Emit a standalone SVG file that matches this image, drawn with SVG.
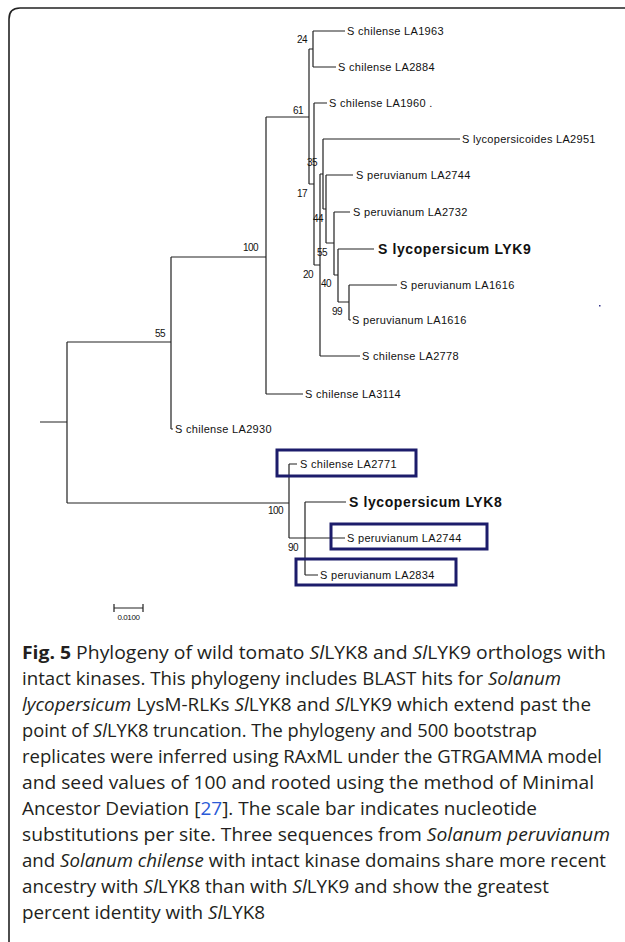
<svg xmlns="http://www.w3.org/2000/svg" width="625" height="942" viewBox="0 0 625 942">
<style>
.br{stroke:#222;stroke-width:1.2;fill:none}
.lf{font-family:"Liberation Sans",Arial,sans-serif;font-size:11px;letter-spacing:0.3px;fill:#111}
.bd{font-family:"Liberation Sans",Arial,sans-serif;font-size:14px;font-weight:bold;letter-spacing:0.6px;fill:#111}
.bs{font-family:"Liberation Sans",Arial,sans-serif;font-size:10px;letter-spacing:-0.6px;fill:#111;text-anchor:end}
.box{fill:none;stroke:#1c1c6b;stroke-width:3}
.cap{font-family:"Open Sans","Noto Sans",sans-serif;font-size:18px;fill:#231f20}
.it{font-style:italic}
.b{font-weight:bold}
</style>
<rect width="625" height="942" fill="#fff"/>
<path d="M9,942 V19 Q9,8 20,8 H625" fill="none" stroke="#222" stroke-width="1.6"/>
<g id="connectors">
<path class="br" d="M40,422H67M67,342V503M67,342H171M171,257V429M171,429H173M171,257H266M266,117V394M266,394H303M266,117H309M309,49V184M309,49H313M313,31V67M313,31H345M313,67H336M309,184H314M314,103V265M314,103H327M314,265H320M320,174V356M320,356H360M320,174H323M323,139V209M323,139H460M323,209H326M326,175V243M326,175H353M326,243H334M334,212V275M334,212H350M334,275H338M338,249V302M338,249H374M338,302H349M349,285V320M349,285H397M349,320H351"/>
<path class="br" d="M67,503H289M289,464V538M289,464H297M289,538H305M305,502V575M305,502H346M305,538H345M305,575H318"/>
</g>
<g id="bootstrap">
<text class="bs" x="307" y="43">24</text>
<text class="bs" x="303" y="114">61</text>
<text class="bs" x="258" y="251">100</text>
<text class="bs" x="165" y="337">55</text>
<text class="bs" x="317" y="166">35</text>
<text class="bs" x="307" y="197">17</text>
<text class="bs" x="323" y="222">44</text>
<text class="bs" x="327" y="256">55</text>
<text class="bs" x="313" y="278">20</text>
<text class="bs" x="331" y="287">40</text>
<text class="bs" x="342" y="315">99</text>
<text class="bs" x="283" y="514">100</text>
<text class="bs" x="298" y="551">90</text>
</g>
<g id="leaf-LA1963"><text class="lf" x="347" y="35">S chilense LA1963</text></g>
<g id="leaf-LA2884"><text class="lf" x="338" y="71">S chilense LA2884</text></g>
<g id="leaf-LA1960"><text class="lf" x="329" y="107">S chilense LA1960 .</text></g>
<g id="leaf-LA2951"><text class="lf" x="462" y="143">S lycopersicoides LA2951</text></g>
<g id="leaf-LA2744a"><text class="lf" x="356" y="179">S peruvianum LA2744</text></g>
<g id="leaf-LA2732"><text class="lf" x="353" y="216">S peruvianum LA2732</text></g>
<g id="leaf-LYK9"><text class="bd" x="378" y="254">S lycopersicum LYK9</text></g>
<g id="leaf-LA1616a"><text class="lf" x="400" y="289">S peruvianum LA1616</text></g>
<g id="leaf-LA1616b"><text class="lf" x="352" y="324">S peruvianum LA1616</text></g>
<g id="leaf-LA2778"><text class="lf" x="362" y="360">S chilense LA2778</text></g>
<g id="leaf-LA3114"><text class="lf" x="305" y="398">S chilense LA3114</text></g>
<g id="leaf-LA2930"><text class="lf" x="175" y="433">S chilense LA2930</text></g>
<g id="leaf-LA2771"><rect class="box" x="277" y="450" width="139" height="26"/><text class="lf" x="300" y="468">S chilense LA2771</text></g>
<g id="leaf-LYK8"><text class="bd" x="349" y="507">S lycopersicum LYK8</text></g>
<g id="leaf-LA2744b"><rect class="box" x="331" y="524" width="156" height="25"/><text class="lf" x="347" y="542">S peruvianum LA2744</text></g>
<g id="leaf-LA2834"><rect class="box" x="296" y="559" width="160" height="26"/><text class="lf" x="320" y="579">S peruvianum LA2834</text></g>
<rect x="599" y="305" width="1.5" height="1.5" fill="#33338a"/>
<g id="scalebar">
<path class="br" d="M114,608H143M114,604V612M143,604V612"/>
<text x="128.5" y="620" font-family="Liberation Sans,Arial,sans-serif" font-size="8" letter-spacing="-0.4" text-anchor="middle" fill="#111">0.0100</text>
</g>
<g id="caption" class="cap">
<text x="22" y="659" textLength="584" lengthAdjust="spacingAndGlyphs"><tspan class="b">Fig. 5</tspan> Phylogeny of wild tomato <tspan class="it">Sl</tspan>LYK8 and <tspan class="it">Sl</tspan>LYK9 orthologs with</text>
<text x="22" y="685" textLength="539" lengthAdjust="spacingAndGlyphs">intact kinases. This phylogeny includes BLAST hits for <tspan class="it">Solanum</tspan></text>
<text x="22" y="711" textLength="569" lengthAdjust="spacingAndGlyphs"><tspan class="it">lycopersicum</tspan> LysM-RLKs <tspan class="it">Sl</tspan>LYK8 and <tspan class="it">Sl</tspan>LYK9 which extend past the</text>
<text x="22" y="737" textLength="515" lengthAdjust="spacingAndGlyphs">point of <tspan class="it">Sl</tspan>LYK8 truncation. The phylogeny and 500 bootstrap</text>
<text x="22" y="763" textLength="580" lengthAdjust="spacingAndGlyphs">replicates were inferred using RAxML under the GTRGAMMA model</text>
<text x="22" y="789" textLength="572" lengthAdjust="spacingAndGlyphs">and seed values of 100 and rooted using the method of Minimal</text>
<text x="22" y="815" textLength="515" lengthAdjust="spacingAndGlyphs">Ancestor Deviation [<tspan fill="#2a5bd7">27</tspan>]. The scale bar indicates nucleotide</text>
<text x="22" y="841" textLength="588" lengthAdjust="spacingAndGlyphs">substitutions per site. Three sequences from <tspan class="it">Solanum peruvianum</tspan></text>
<text x="22" y="867" textLength="584" lengthAdjust="spacingAndGlyphs">and <tspan class="it">Solanum chilense</tspan> with intact kinase domains share more recent</text>
<text x="22" y="893" textLength="527" lengthAdjust="spacingAndGlyphs">ancestry with <tspan class="it">Sl</tspan>LYK8 than with <tspan class="it">Sl</tspan>LYK9 and show the greatest</text>
<text x="22" y="919" textLength="243" lengthAdjust="spacingAndGlyphs">percent identity with <tspan class="it">Sl</tspan>LYK8</text>
</g>
</svg>
